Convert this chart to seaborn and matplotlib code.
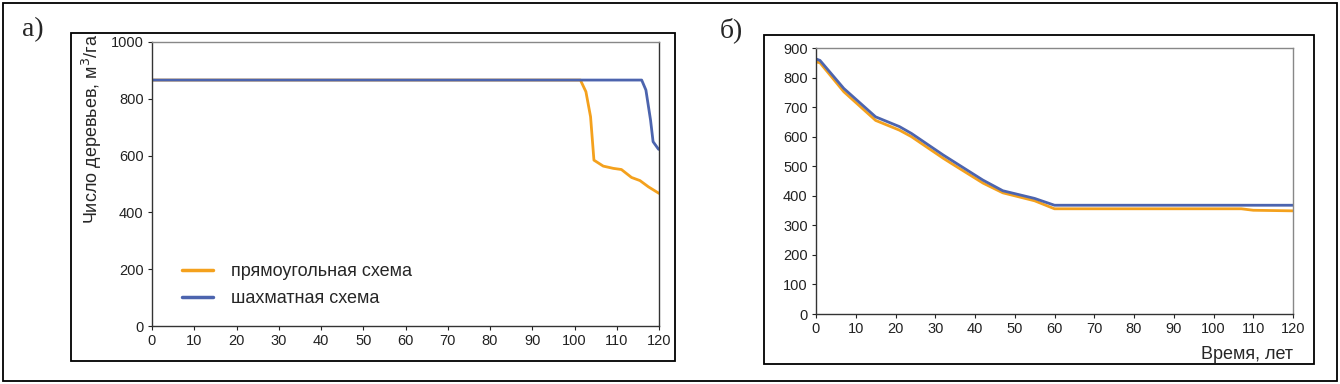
import pandas as pd
import numpy as np
import matplotlib
matplotlib.use("Agg")
import matplotlib.pyplot as plt
from matplotlib.patches import Rectangle
import seaborn as sns

# panel a) - trees volume, years
rect_years_a = [0, 101.4, 102.7, 103.8, 104.6, 106.8, 109.2, 111.1, 113.5, 115.5, 117.5, 120]
rect_vals_a = [866, 866, 825, 737, 584, 563, 555, 551, 523, 512, 490, 467]
chess_years_a = [0, 115.9, 116.9, 118.0, 118.6, 119.9]
chess_vals_a = [866, 866, 831, 725, 649, 622]

# panel б)
rect_years_b = [0, 1, 7, 15, 21, 24, 32, 34, 42, 47, 55, 60, 107, 110, 120]
rect_vals_b = [853, 850, 752, 655, 622, 600, 527, 510, 443, 410, 383, 356, 356, 351, 349]
chess_years_b = [0, 1, 7, 15, 21, 24, 32, 34, 42, 47, 55, 60, 120]
chess_vals_b = [863, 858, 763, 667, 634, 611, 538, 521, 453, 417, 391, 368, 368]

series_names = ["прямоугольная схема", "шахматная схема"]
colors = ["#F4A11D", "#4C64AE"]

sns.set_style("white")
plt.rcParams["font.family"] = ["Liberation Sans", "DejaVu Sans"]

df_a = pd.concat([
    pd.DataFrame({"year": rect_years_a, "value": rect_vals_a, "scheme": series_names[0]}),
    pd.DataFrame({"year": chess_years_a, "value": chess_vals_a, "scheme": series_names[1]}),
])
df_b = pd.concat([
    pd.DataFrame({"year": rect_years_b, "value": rect_vals_b, "scheme": series_names[0]}),
    pd.DataFrame({"year": chess_years_b, "value": chess_vals_b, "scheme": series_names[1]}),
])

W, H = 1340, 384
fig = plt.figure(figsize=(W / 100, H / 100), dpi=100)


def px_box(x0, y0, x1, y1):
    return [x0 / W, 1 - y1 / H, (x1 - x0) / W, (y1 - y0) / H]


# frames
for (x0, y0, x1, y1) in [(3, 3, 1337, 381), (71, 33, 675, 361), (764, 35, 1314, 364)]:
    fig.patches.append(Rectangle((x0 / W, 1 - y1 / H), (x1 - x0) / W, (y1 - y0) / H,
                                 transform=fig.transFigure, fill=False,
                                 edgecolor="black", linewidth=1.3))

ax1 = fig.add_axes(px_box(152, 42, 659, 326))
ax2 = fig.add_axes(px_box(816, 48, 1293, 314))

pal = dict(zip(series_names, colors))
sns.lineplot(data=df_a, x="year", y="value", hue="scheme", palette=pal,
             hue_order=series_names, linewidth=2.0, ax=ax1, sort=False, estimator=None)
sns.lineplot(data=df_b, x="year", y="value", hue="scheme", palette=pal,
             hue_order=series_names, linewidth=2.0, ax=ax2, sort=False, estimator=None,
             legend=False)

ax1.set_xlim(0, 120)
ax1.set_ylim(0, 1000)
ax1.set_xticks(np.arange(0, 121, 10))
ax1.set_yticks(np.arange(0, 1001, 200))
ax1.set_xlabel("")
ax1.set_ylabel("Число деревьев, м$^3$/га", fontsize=13, loc="top", labelpad=5)
ax1.yaxis.label.set_position((0, 1.03))

ax2.set_xlim(0, 120)
ax2.set_ylim(0, 900)
ax2.set_xticks(np.arange(0, 121, 10))
ax2.set_yticks(np.arange(0, 901, 100))
ax2.set_xlabel("Время, лет", fontsize=13, loc="right", labelpad=7)
ax2.set_ylabel("")

for ax in (ax1, ax2):
    ax.tick_params(axis="both", direction="out", length=3, width=0.8, labelsize=10.5,
                   colors="#222222", pad=3, bottom=True, left=True)
    for s in ("left", "bottom"):
        ax.spines[s].set_color("#333333")
        ax.spines[s].set_linewidth(1.0)
    for s in ("top", "right"):
        ax.spines[s].set_color("#888888")
        ax.spines[s].set_linewidth(1.0)
ax1.spines["right"].set_color("#333333")

leg = ax1.legend(loc="lower left", bbox_to_anchor=(0.028, 0.01), frameon=False,
                 fontsize=13, handlelength=1.7, handletextpad=1.0, labelspacing=0.55)
for line in leg.get_lines():
    line.set_linewidth(2.5)

fig.text(22 / W, 1 - 30 / H, "а)", fontsize=20, family=["Liberation Serif", "DejaVu Serif"],
         va="center", ha="left")
fig.text(720 / W, 1 - 30 / H, "б)", fontsize=20, family=["Liberation Serif", "DejaVu Serif"],
         va="center", ha="left")

fig.savefig("out.png", dpi=100)
